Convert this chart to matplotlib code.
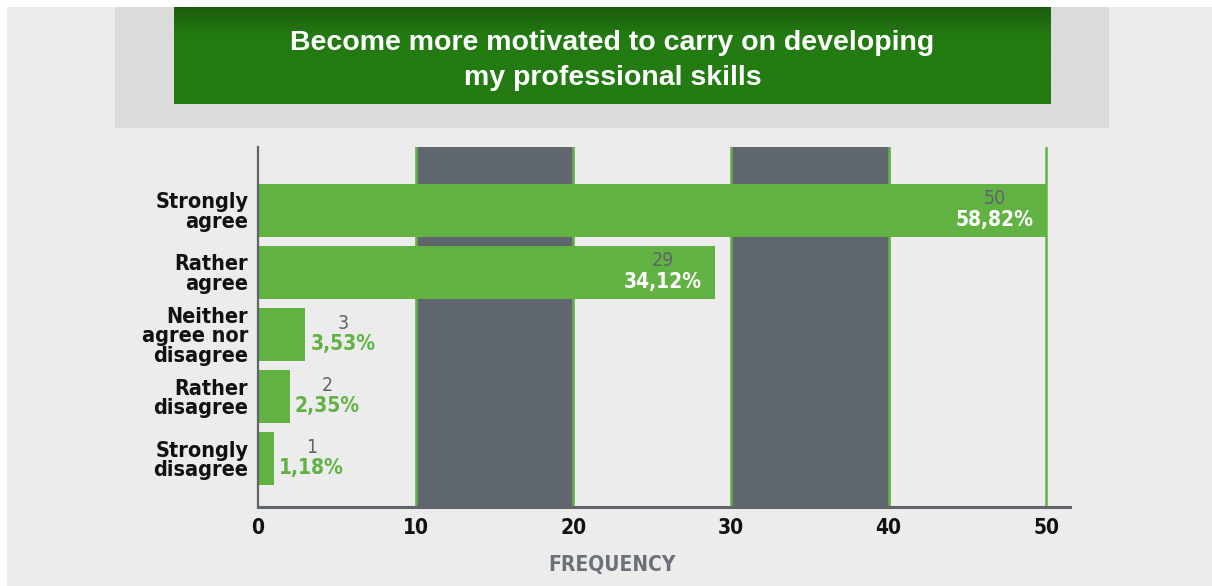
import numpy as np
import matplotlib.pyplot as plt
from matplotlib.patches import Rectangle

# data
categories = ['Strongly\nagree', 'Rather\nagree', 'Neither\nagree nor\ndisagree',
              'Rather\ndisagree', 'Strongly\ndisagree']
counts = [50, 29, 3, 2, 1]
percents = ['58,82%', '34,12%', '3,53%', '2,35%', '1,18%']
x_ticks = [0, 10, 20, 30, 40, 50]
title = 'Become more motivated to carry on developing\nmy professional skills'
x_label = 'FREQUENCY'

bg = '#ececec'
bar_green = '#62b243'
band_grey = '#5f666d'
axis_grey = '#5f656b'

narrow = dict(family='DejaVu Sans', fontstretch='condensed')

W, H = 1212, 586
fig = plt.figure(figsize=(W / 100, H / 100), dpi=100, facecolor='white')

# background and header panels (figure pixel coords converted to fractions)
def px_rect(x0, y0, x1, y1, color):
    fig.patches.append(Rectangle((x0 / W, 1 - y1 / H), (x1 - x0) / W, (y1 - y0) / H,
                                 transform=fig.transFigure, facecolor=color,
                                 edgecolor='none', zorder=-10))

px_rect(7, 7, W, H, bg)
px_rect(115, 7, 1109, 128, '#dbdbdb')

# green banner with a slight vertical gradient
ban = fig.add_axes([174 / W, 1 - 104 / H, (1051 - 174) / W, 97 / H])
grad = np.linspace(0, 1, 100).reshape(-1, 1)
top_c = np.array([0x1c, 0x5c, 0x0e]) / 255
mid_c = np.array([0x23, 0x7b, 0x12]) / 255
k = np.clip(grad / 0.3, 0, 1)
img = top_c * (1 - k[..., None]) + mid_c * k[..., None]
ban.imshow(img, aspect='auto', extent=[0, 1, 0, 1], origin='upper')
ban.axis('off')
ban.text(0.5, 0.45, title, ha='center', va='center', color='white',
         fontsize=20.5, fontweight='bold', family=['Liberation Sans', 'DejaVu Sans'],
         linespacing=1.45, transform=ban.transAxes)

# main chart
ax = fig.add_axes([258 / W, (H - 507) / H, 812 / W, 360 / H])
ax.set_facecolor(bg)
y = np.arange(len(categories))

ax.axvspan(10, 20, color=band_grey, zorder=0)
ax.axvspan(30, 40, color=band_grey, zorder=0)
for t in x_ticks[1:]:
    ax.axvline(t, color=bar_green, lw=1.8, zorder=1)

ax.barh(y, counts, height=0.855, color=bar_green, zorder=2)

max_c = max(counts)
for yi, c, p in zip(y, counts, percents):
    if c > max_c * 0.3:
        xo, pc = -52, 'white'
    else:
        xo, pc = 38, bar_green
    ax.annotate(str(c), (c, yi), xytext=(xo, 11.5), textcoords='offset pixels',
                ha='center', va='center', color=axis_grey, fontsize=14,
                zorder=3, **narrow)
    ax.annotate(p, (c, yi), xytext=(xo, -9.5), textcoords='offset pixels',
                ha='center', va='center', color=pc, fontsize=15,
                fontweight='bold', zorder=3, **narrow)

ax.set_xlim(0, 51.5)
ax.set_ylim(4.782, -1.024)
ax.set_xticks(x_ticks)
ax.set_xticklabels([str(t) for t in x_ticks], fontsize=15, fontweight='bold',
                   color='#111111', **narrow)
ax.set_yticks(y)
ax.set_yticklabels(categories, fontsize=15.5, fontweight='bold',
                   color='#111111', linespacing=0.98, **narrow)
ax.tick_params(axis='both', length=0)
ax.tick_params(axis='x', pad=8)
ax.tick_params(axis='y', pad=7)

for s in ['top', 'right']:
    ax.spines[s].set_visible(False)
ax.spines['left'].set_color(axis_grey)
ax.spines['left'].set_linewidth(1.6)
ax.spines['bottom'].set_color(axis_grey)
ax.spines['bottom'].set_linewidth(2.2)
ax.spines['bottom'].set_zorder(4)

fig.text(612 / W, 1 - 565 / H, x_label, ha='center', va='center', color='#6b7178',
         fontsize=15, fontweight='bold', **narrow)

fig.savefig('out.png', dpi=100, facecolor=fig.get_facecolor())
